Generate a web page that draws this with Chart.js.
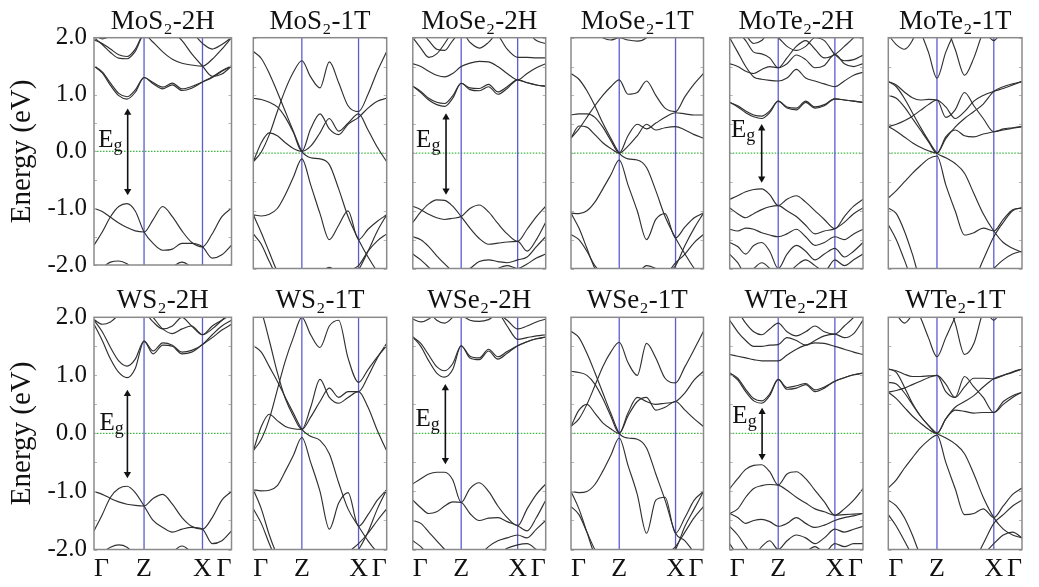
<!DOCTYPE html>
<html><head><meta charset="utf-8">
<script src="https://cdn.jsdelivr.net/npm/chart.js@4.4.0/dist/chart.umd.min.js"></script>
<style>
html,body{margin:0;padding:0;background:#fff;}
#wrap{position:relative;width:1039px;height:587px;overflow:hidden;background:#fff;}
#wrap canvas{position:absolute;}
</style></head><body><div id="wrap"></div>
<script>
// ---------- data ----------
const kPath = [0, 0.06, 0.12, 0.18, 0.24, 0.30, 0.364, 0.43, 0.50, 0.57, 0.64, 0.71, 0.789, 0.86, 0.93, 1];
const kTickPos = [0, 0.364, 0.789, 1];
const kTickLabels = ['Γ', 'Z', 'X', 'Γ'];
const energyRange = [-2, 2];
const panelTitles = ['MoS₂-2H','MoS₂-1T','MoSe₂-2H','MoSe₂-1T','MoTe₂-2H','MoTe₂-1T',
                     'WS₂-2H','WS₂-1T','WSe₂-2H','WSe₂-1T','WTe₂-2H','WTe₂-1T'];

const bands_MoS2_2H = [
 [-1.00,-1.06,-1.16,-1.26,-1.34,-1.40,-1.42,-1.20,-0.97,-1.15,-1.40,-1.60,-1.68,-1.45,-1.15,-1.00],
 [-1.65,-1.42,-1.15,-0.97,-0.92,-1.05,-1.42,-1.62,-1.74,-1.72,-1.62,-1.62,-1.68,-1.88,-1.82,-1.65],
 [-2.10,-2.04,-1.95,-1.93,-1.98,-2.10,-2.20,-2.20,-2.20,-2.04,-1.95,-2.04,-2.20,-2.20,-2.20,-2.10],
 [1.50,1.38,1.16,0.98,0.92,1.04,1.30,1.19,1.10,1.17,1.07,1.11,1.22,1.31,1.42,1.50],
 [1.50,1.40,1.20,1.02,0.96,1.08,1.30,1.21,1.13,1.20,1.10,1.14,1.22,1.30,1.41,1.50],
 [2.00,1.88,1.74,1.64,1.63,1.76,2.05,1.92,1.75,1.62,1.55,1.52,1.50,1.62,1.80,2.00],
 [1.96,1.90,1.80,1.70,1.67,1.80,2.10,2.20,2.20,2.10,1.95,1.72,1.50,1.32,1.36,1.50],
 [2.05,1.98,2.04,2.20,2.20,2.20,2.20,2.20,2.20,2.20,2.20,2.10,1.90,1.80,1.88,2.00]
];
const bands_MoS2_1T = [
 [1.76,1.64,1.38,1.06,0.72,0.38,0.03,-0.08,-0.10,-0.20,-0.62,-1.10,-1.50,-1.80,-2.05,-2.20],
 [-0.15,0.02,0.32,0.72,1.10,1.40,1.60,1.32,1.13,1.58,1.22,0.82,0.72,1.02,1.42,1.76],
 [0.95,0.93,0.88,0.80,0.62,0.36,0.03,0.42,0.68,0.42,0.32,0.50,0.62,0.78,0.90,0.95],
 [-0.15,0.18,0.35,0.30,0.18,0.08,0.03,0.12,0.35,0.60,0.38,0.52,0.68,0.40,0.10,-0.15],
 [-1.07,-1.09,-1.06,-0.96,-0.72,-0.42,-0.10,-0.55,-1.05,-1.50,-1.25,-1.00,-1.50,-1.32,-1.18,-1.07],
 [-1.40,-1.58,-1.88,-2.15,-2.30,-2.30,-2.30,-2.30,-2.30,-2.30,-2.20,-2.05,-1.95,-1.70,-1.52,-1.40],
 [-1.07,-1.38,-1.72,-2.05,-2.25,-2.30,-2.30,-2.30,-2.10,-1.98,-2.10,-2.20,-2.02,-1.70,-1.35,-1.07]
];
const bands_MoSe2_2H = [
 [1.16,1.05,0.92,0.84,0.81,0.95,1.21,1.10,1.08,1.15,1.02,1.12,1.27,1.22,1.18,1.16],
 [1.16,1.07,0.95,0.88,0.86,0.99,1.21,1.13,1.12,1.19,1.06,1.15,1.27,1.22,1.18,1.16],
 [1.55,1.50,1.42,1.35,1.32,1.38,1.50,1.56,1.59,1.58,1.50,1.38,1.27,1.38,1.48,1.55],
 [2.00,1.82,1.66,1.72,1.90,2.10,2.20,2.20,2.20,2.20,2.05,1.80,1.66,1.66,1.65,1.65],
 [2.20,2.10,1.95,1.80,1.78,1.95,2.10,1.92,1.82,1.92,2.10,2.20,2.20,2.10,1.95,1.90],
 [-0.92,-0.98,-1.06,-1.12,-1.15,-1.13,-1.10,-0.96,-0.90,-1.02,-1.22,-1.40,-1.53,-1.32,-1.10,-0.92],
 [-1.20,-1.02,-0.88,-0.81,-0.82,-0.92,-1.10,-1.30,-1.48,-1.58,-1.56,-1.54,-1.53,-1.70,-1.50,-1.20],
 [-1.45,-1.50,-1.62,-1.78,-1.92,-2.05,-2.10,-2.00,-1.88,-1.85,-1.88,-1.90,-1.85,-1.80,-1.62,-1.45],
 [-1.75,-1.85,-1.98,-2.10,-2.20,-2.20,-2.20,-2.20,-2.20,-2.10,-2.00,-1.95,-2.00,-1.92,-1.82,-1.75]
];
const bands_MoSe2_1T = [
 [1.38,1.28,1.08,0.82,0.52,0.26,0.00,-0.10,-0.12,-0.25,-0.65,-1.10,-1.47,-1.75,-2.00,-2.20],
 [0.26,0.42,0.62,0.82,1.00,1.15,1.27,1.02,1.05,1.25,1.00,0.78,0.72,0.98,1.20,1.38],
 [0.66,0.68,0.68,0.62,0.45,0.22,0.00,0.30,0.50,0.42,0.52,0.62,0.70,0.68,0.66,0.66],
 [0.26,0.47,0.45,0.32,0.18,0.08,0.00,0.12,0.30,0.50,0.40,0.44,0.46,0.40,0.32,0.26],
 [-1.04,-1.05,-1.00,-0.85,-0.62,-0.38,-0.12,-0.55,-1.00,-1.50,-1.15,-1.05,-1.47,-1.28,-1.12,-1.04],
 [-1.04,-1.30,-1.65,-2.00,-2.20,-2.30,-2.30,-2.30,-2.30,-2.30,-2.20,-2.10,-1.95,-1.60,-1.30,-1.04],
 [-1.41,-1.50,-1.70,-1.95,-2.10,-2.20,-2.20,-2.20,-2.10,-1.95,-2.00,-2.10,-1.90,-1.75,-1.55,-1.41],
 [2.20,2.20,2.20,2.10,2.00,1.96,2.00,1.96,1.94,2.00,2.20,2.20,2.20,2.20,2.20,2.20]
];
const bands_MoTe2_2H = [
 [0.88,0.80,0.70,0.63,0.60,0.70,0.90,0.78,0.75,0.88,0.78,0.82,0.94,0.92,0.90,0.88],
 [0.88,0.82,0.73,0.66,0.64,0.73,0.90,0.80,0.78,0.90,0.80,0.84,0.94,0.92,0.90,0.88],
 [1.55,1.50,1.42,1.38,1.45,1.50,1.48,1.55,1.70,1.62,1.48,1.52,1.71,1.55,1.50,1.55],
 [2.00,1.75,1.50,1.32,1.28,1.26,1.25,1.30,1.45,1.30,1.25,1.20,1.15,1.25,1.35,1.40],
 [2.20,2.10,1.95,1.75,1.72,1.65,1.48,1.65,1.85,1.95,1.80,1.65,1.71,1.85,2.00,2.20],
 [2.30,2.20,2.05,1.90,1.95,2.10,2.00,1.85,1.78,1.85,2.00,1.95,1.71,1.60,1.62,1.70],
 [-0.80,-0.74,-0.67,-0.63,-0.62,-0.72,-0.91,-0.80,-0.74,-0.85,-1.00,-1.15,-1.31,-1.10,-0.92,-0.80],
 [-0.95,-1.05,-1.12,-1.05,-0.98,-0.93,-0.91,-1.00,-1.10,-1.25,-1.40,-1.35,-1.31,-1.20,-1.05,-0.95],
 [-1.32,-1.35,-1.30,-1.32,-1.38,-1.42,-1.45,-1.40,-1.32,-1.45,-1.60,-1.55,-1.45,-1.50,-1.40,-1.32],
 [-1.55,-1.62,-1.75,-1.60,-1.55,-1.70,-2.00,-1.75,-1.60,-1.70,-1.85,-1.75,-1.65,-1.80,-1.70,-1.55],
 [-1.75,-1.90,-2.10,-2.00,-1.90,-2.00,-2.20,-2.10,-1.95,-1.85,-1.95,-2.05,-1.85,-1.95,-1.85,-1.75]
];
const bands_MoTe2_1T = [
 [1.24,1.15,0.95,0.70,0.45,0.22,0.00,-0.08,-0.18,-0.35,-0.70,-1.05,-1.35,-1.55,-1.65,-1.72],
 [0.46,0.50,0.56,0.64,0.74,0.84,0.92,0.62,0.75,1.05,0.82,0.60,0.37,0.42,0.44,0.46],
 [1.00,0.95,0.80,0.60,0.40,0.20,0.00,0.25,0.45,0.60,0.72,0.85,1.07,1.15,1.20,1.24],
 [1.24,1.18,1.06,0.96,0.92,0.93,0.92,0.80,0.60,0.72,0.90,1.00,1.07,1.12,1.18,1.24],
 [0.46,0.38,0.28,0.18,0.10,0.04,0.00,0.28,0.40,0.30,0.28,0.33,0.37,0.40,0.43,0.46],
 [-0.78,-0.65,-0.50,-0.35,-0.22,-0.10,-0.05,-0.55,-1.00,-1.42,-1.38,-1.30,-1.35,-1.15,-0.98,-0.95],
 [-0.95,-1.05,-1.35,-1.75,-2.20,-2.30,-2.30,-2.30,-2.30,-2.30,-2.20,-1.85,-1.45,-1.20,-1.00,-0.95],
 [-1.24,-1.50,-1.85,-2.20,-2.30,-2.30,-2.30,-2.30,-2.30,-2.30,-2.30,-2.20,-2.00,-1.85,-1.75,-1.70],
 [2.05,1.88,1.80,1.95,2.30,2.30,2.30,2.30,2.30,2.30,2.30,2.30,2.30,2.30,2.30,2.30],
 [2.30,2.30,2.30,2.30,2.10,1.75,1.30,1.75,2.10,2.30,2.30,2.30,2.30,2.30,2.30,2.30],
 [2.30,2.30,2.30,2.30,2.30,2.30,2.30,2.20,1.80,1.35,1.65,2.10,2.30,2.30,2.30,2.30],
 [2.30,2.30,2.30,2.30,2.30,2.30,2.30,2.30,2.30,2.30,2.30,2.15,1.95,2.15,2.30,2.30]
];
const bands_WS2_2H = [
 [1.88,1.60,1.28,1.05,0.96,1.12,1.59,1.37,1.52,1.50,1.37,1.40,1.53,1.65,1.78,1.88],
 [1.95,1.75,1.48,1.25,1.16,1.28,1.59,1.42,1.56,1.52,1.40,1.43,1.53,1.70,1.85,1.95],
 [1.96,1.88,1.92,2.05,2.20,2.20,2.20,2.00,1.80,1.72,1.80,1.85,1.70,1.85,1.95,2.05],
 [2.20,2.20,2.20,2.20,2.20,2.20,2.10,1.92,1.80,1.85,2.00,1.85,1.70,1.80,1.95,2.10],
 [-1.00,-1.05,-1.12,-1.18,-1.22,-1.24,-1.25,-1.12,-1.05,-1.22,-1.45,-1.60,-1.65,-1.45,-1.15,-1.00],
 [-1.68,-1.40,-1.10,-0.95,-0.91,-1.02,-1.25,-1.50,-1.62,-1.70,-1.65,-1.62,-1.65,-1.90,-1.85,-1.68],
 [-2.10,-2.05,-1.96,-1.92,-1.96,-2.10,-2.20,-2.20,-2.20,-2.05,-1.94,-2.05,-2.20,-2.10,-2.00,-2.10]
];
const bands_WS2_1T = [
 [1.51,1.40,1.15,0.90,0.62,0.35,0.07,-0.05,-0.12,-0.35,-0.85,-1.30,-1.60,-1.85,-2.05,-2.20],
 [-0.30,-0.10,0.25,0.75,1.25,1.65,2.00,1.70,1.48,1.85,1.95,1.30,0.88,1.10,1.32,1.51],
 [-0.30,0.12,0.33,0.22,0.12,0.08,0.07,0.45,0.93,0.62,0.52,0.62,0.72,0.45,0.05,-0.30],
 [2.30,2.10,1.60,1.05,0.60,0.30,0.07,0.28,0.55,0.78,0.62,0.72,0.72,0.98,1.30,1.55],
 [-0.97,-0.99,-0.98,-0.90,-0.65,-0.38,-0.07,-0.50,-1.00,-1.65,-1.20,-1.02,-1.60,-1.40,-1.15,-0.97],
 [-0.97,-1.30,-1.75,-2.10,-2.30,-2.30,-2.30,-2.30,-2.30,-2.30,-2.30,-2.20,-2.00,-1.70,-1.30,-0.97],
 [-1.30,-1.55,-1.90,-2.20,-2.30,-2.30,-2.30,-2.30,-2.30,-2.30,-2.20,-2.05,-1.90,-1.72,-1.50,-1.30]
];
const bands_WSe2_2H = [
 [1.66,1.50,1.25,1.04,0.97,1.10,1.51,1.30,1.27,1.42,1.28,1.38,1.51,1.58,1.63,1.66],
 [1.66,1.55,1.35,1.15,1.08,1.20,1.51,1.33,1.30,1.45,1.32,1.41,1.51,1.58,1.63,1.66],
 [1.97,1.92,1.97,2.10,2.20,2.20,2.05,1.95,1.93,1.96,2.05,1.95,1.80,1.85,1.92,1.97],
 [2.20,2.20,2.10,1.95,1.90,2.00,2.20,2.20,2.20,2.20,2.10,1.85,1.62,1.65,1.68,1.70],
 [-0.87,-0.78,-0.70,-0.67,-0.67,-0.80,-1.19,-0.95,-0.85,-1.00,-1.25,-1.45,-1.59,-1.30,-1.05,-0.87],
 [-1.15,-1.28,-1.38,-1.35,-1.25,-1.18,-1.19,-1.38,-1.50,-1.46,-1.45,-1.52,-1.59,-1.68,-1.45,-1.15],
 [-1.50,-1.55,-1.70,-1.85,-2.00,-2.15,-2.20,-2.20,-2.10,-1.95,-1.85,-1.80,-1.75,-1.80,-1.65,-1.50],
 [-1.85,-1.95,-2.10,-2.20,-2.20,-2.20,-2.20,-2.20,-2.20,-2.20,-2.10,-1.98,-1.92,-1.90,-2.00,-2.10]
];
const bands_WSe2_1T = [
 [1.76,1.65,1.38,1.05,0.70,0.35,0.00,-0.08,-0.10,-0.25,-0.70,-1.15,-1.72,-1.85,-2.05,-2.20],
 [0.12,0.25,0.50,0.82,1.15,1.40,1.57,1.22,1.00,1.55,1.30,0.95,0.87,1.15,1.45,1.76],
 [1.07,1.05,1.00,0.85,0.60,0.30,0.00,0.35,0.62,0.55,0.50,0.52,0.55,0.70,0.92,1.07],
 [0.12,0.40,0.50,0.35,0.18,0.08,0.00,0.30,0.55,0.62,0.40,0.45,0.55,0.40,0.25,0.12],
 [-1.00,-1.02,-1.00,-0.88,-0.65,-0.38,-0.08,-0.55,-1.05,-1.72,-1.15,-1.10,-1.72,-1.45,-1.15,-1.00],
 [-1.00,-1.30,-1.70,-2.10,-2.30,-2.30,-2.30,-2.30,-2.30,-2.30,-2.30,-2.20,-2.00,-1.60,-1.30,-1.00],
 [-1.26,-1.40,-1.70,-2.00,-2.20,-2.30,-2.30,-2.30,-2.30,-2.30,-2.20,-2.10,-1.95,-1.70,-1.45,-1.26]
];
const bands_WTe2_2H = [
 [1.04,0.92,0.72,0.56,0.52,0.65,0.93,0.76,0.78,0.84,0.72,0.78,0.90,0.96,1.01,1.04],
 [1.04,0.95,0.76,0.60,0.56,0.68,0.93,0.79,0.82,0.86,0.75,0.80,0.90,0.96,1.01,1.04],
 [1.36,1.33,1.30,1.27,1.25,1.25,1.25,1.35,1.45,1.52,1.56,1.55,1.50,1.45,1.40,1.36],
 [1.95,1.75,1.60,1.50,1.50,1.52,1.53,1.65,1.60,1.52,1.60,1.68,1.71,1.65,1.72,1.95],
 [2.20,2.10,1.90,1.75,1.70,1.80,1.90,1.75,1.68,1.75,1.85,1.75,1.71,1.85,2.00,2.20],
 [-0.95,-0.78,-0.62,-0.55,-0.54,-0.66,-0.89,-0.70,-0.66,-0.78,-0.98,-1.18,-1.41,-1.30,-1.15,-0.95],
 [-1.38,-1.30,-1.10,-0.95,-0.90,-0.88,-0.89,-0.98,-1.10,-1.20,-1.30,-1.35,-1.41,-1.40,-1.39,-1.38],
 [-1.38,-1.45,-1.55,-1.50,-1.48,-1.52,-1.60,-1.55,-1.45,-1.55,-1.62,-1.58,-1.50,-1.45,-1.42,-1.38],
 [-1.60,-1.75,-1.95,-2.10,-1.95,-1.85,-2.00,-1.85,-1.75,-1.80,-1.90,-1.80,-1.65,-1.70,-1.65,-1.60],
 [-1.90,-2.10,-2.20,-2.20,-2.20,-2.10,-2.00,-2.10,-2.20,-2.05,-1.95,-2.05,-1.90,-1.95,-1.90,-1.90]
];
const bands_WTe2_1T = [
 [1.11,1.05,0.80,0.52,0.30,0.14,0.00,-0.08,-0.18,-0.35,-0.70,-1.10,-1.45,-1.65,-1.75,-1.80],
 [0.71,0.74,0.78,0.84,0.90,0.96,1.00,0.72,0.62,0.98,0.80,0.62,0.36,0.55,0.65,0.71],
 [0.88,0.85,0.70,0.50,0.30,0.14,0.00,0.25,0.45,0.55,0.65,0.80,0.94,1.00,1.05,1.11],
 [1.11,1.08,1.02,0.98,0.98,0.99,1.00,0.85,0.62,0.80,0.95,0.95,0.94,1.00,1.06,1.11],
 [0.71,0.60,0.45,0.30,0.18,0.07,0.00,0.25,0.40,0.38,0.35,0.36,0.36,0.50,0.62,0.71],
 [-0.94,-0.80,-0.60,-0.42,-0.25,-0.12,-0.03,-0.50,-0.95,-1.40,-1.38,-1.30,-1.45,-1.25,-1.05,-0.94],
 [-1.15,-1.25,-1.45,-1.75,-2.10,-2.30,-2.30,-2.30,-2.30,-2.30,-2.20,-1.90,-1.55,-1.40,-1.25,-1.15],
 [-1.40,-1.60,-1.85,-2.10,-2.30,-2.30,-2.30,-2.30,-2.30,-2.30,-2.30,-2.10,-1.90,-1.75,-1.70,-1.80],
 [2.20,2.05,1.90,2.05,2.30,2.30,2.30,2.30,2.30,2.30,2.30,2.30,2.30,2.30,2.30,2.30],
 [2.30,2.30,2.30,2.25,2.00,1.65,1.32,1.65,2.00,2.30,2.30,2.30,2.30,2.30,2.30,2.30],
 [2.30,2.30,2.30,2.30,2.30,2.30,2.30,2.30,1.90,1.36,1.55,2.10,2.30,2.30,2.30,2.30],
 [2.30,2.30,2.30,2.30,2.30,2.30,2.30,2.30,2.30,2.30,2.30,2.20,1.95,2.20,2.30,2.30]
];

// band-gap arrows (k position, arrow ends in eV) and E_g label anchor
const gap_MoS2_2H  = {k:0.245, top:0.68, bottom:-0.70, labelK:0.03, labelE:0.08};
const gap_MoSe2_2H = {k:0.25,  top:0.62, bottom:-0.65, labelK:0.025, labelE:0.10};
const gap_MoTe2_2H = {k:0.24,  top:0.43, bottom:-0.44, labelK:0.01, labelE:0.28};
const gap_WS2_2H   = {k:0.243, top:0.68, bottom:-0.70, labelK:0.04, labelE:0.06};
const gap_WSe2_2H  = {k:0.245, top:0.78, bottom:-0.46, labelK:0.02, labelE:0.12};
const gap_WTe2_2H  = {k:0.243, top:0.37, bottom:-0.39, labelK:0.02, labelE:0.18};

const panelBands = [bands_MoS2_2H, bands_MoS2_1T, bands_MoSe2_2H, bands_MoSe2_1T, bands_MoTe2_2H, bands_MoTe2_1T,
                    bands_WS2_2H, bands_WS2_1T, bands_WSe2_2H, bands_WSe2_1T, bands_WTe2_2H, bands_WTe2_1T];
const panelGaps = [gap_MoS2_2H, null, gap_MoSe2_2H, null, gap_MoTe2_2H, null,
                   gap_WS2_2H, null, gap_WSe2_2H, null, gap_WTe2_2H, null];

// ---------- layout & style ----------
const FONT = "'Liberation Serif','Times New Roman','DejaVu Serif',serif";
const colBox = [[94,231.5],[253.3,386.7],[412.8,545.7],[571,703.5],[729.7,863],[888.3,1022]];
const rowBox = [[37.7,268.5],[317.3,549.5]];
const TITLE_SIZE = 27, TITLE_PAD_TOP = 5;
const BAND_COLOR = '#303030', KLINE_COLOR = '#5c5cd2', ZERO_COLOR = '#3fb83f';

Chart.defaults.font.family = FONT;

const framePlugin = {
  id: 'frame',
  afterDatasetsDraw(chart) {
    const {ctx, chartArea: a, scales: {y}} = chart;
    ctx.save();
    ctx.strokeStyle = '#b4b4b4'; ctx.lineWidth = 1;
    y.ticks.forEach(t => {
      const py = Math.round(y.getPixelForValue(t.value)) + 0.5;
      ctx.beginPath();
      ctx.moveTo(a.left, py); ctx.lineTo(a.left + 3, py);
      ctx.moveTo(a.right, py); ctx.lineTo(a.right - 3, py);
      ctx.stroke();
    });
    ctx.strokeStyle = '#8a8a8a'; ctx.lineWidth = 1.5;
    ctx.strokeRect(a.left, a.top, a.right - a.left, a.bottom - a.top);
    ctx.restore();
  }
};
function gapLabelPlugin(g) {
  return {
    id: 'gapLabel',
    afterDatasetsDraw(chart) {
      const {ctx, scales: {x, y}} = chart;
      const px = x.getPixelForValue(g.labelK), py = y.getPixelForValue(g.labelE);
      ctx.save();
      ctx.fillStyle = '#111'; ctx.textAlign = 'left'; ctx.textBaseline = 'alphabetic';
      ctx.font = '25px ' + FONT;
      ctx.fillText('E', px, py);
      const w = ctx.measureText('E').width;
      ctx.font = '18px ' + FONT;
      ctx.fillText('g', px + w, py + 4);
      ctx.restore();
    }
  };
}

const wrap = document.getElementById('wrap');
panelTitles.forEach((title, idx) => {
  const row = Math.floor(idx / 6), col = idx % 6;
  const [bl, br] = colBox[col], [bt, bb] = rowBox[row];
  const T = TITLE_PAD_TOP + TITLE_SIZE * 1.2;
  const cl = col === 0 ? 0 : Math.floor(bl - 6);
  const cr = Math.ceil(br + 6);
  const ct = Math.floor(bt - T);
  const cb = row === 0 ? Math.ceil(bb + 18) : 587;
  const cv = document.createElement('canvas');
  cv.width = cr - cl; cv.height = cb - ct;
  cv.style.left = cl + 'px'; cv.style.top = ct + 'px';
  cv.style.width = (cr - cl) + 'px'; cv.style.height = (cb - ct) + 'px';
  wrap.appendChild(cv);

  const padding = {
    left: col === 0 ? 0 : bl - cl,
    right: cr - br,
    top: bt - T - ct,
    bottom: row === 0 ? cb - bb : 0
  };
  const yAxisW = col === 0 ? bl - cl : 0;
  const xAxisH = row === 1 ? cb - bb : 0;
  const kZ = kTickPos[1], kX = kTickPos[2];

  const datasets = [];
  datasets.push({ data: [{x: 0, y: 0}, {x: 1, y: 0}], borderColor: ZERO_COLOR, borderWidth: 1.2,
                  borderDash: [1.5, 1.5], pointRadius: 0, order: 3 });
  [kZ, kX].forEach(k => datasets.push({ data: [{x: k, y: energyRange[0]}, {x: k, y: energyRange[1]}],
                  borderColor: KLINE_COLOR, borderWidth: 1.3, pointRadius: 0, order: 2 }));
  panelBands[idx].forEach(b => datasets.push({
    data: kPath.map((k, i) => ({x: k, y: b[i]})),
    borderColor: BAND_COLOR, borderWidth: 1.15, pointRadius: 0,
    cubicInterpolationMode: 'monotone', order: 1
  }));
  const g = panelGaps[idx];
  const plugins = [framePlugin];
  if (g) {
    datasets.push({ data: [{x: g.k, y: g.top}, {x: g.k, y: g.bottom}], borderColor: '#111', borderWidth: 1.6,
      pointStyle: 'triangle', pointRadius: 4.2, pointRotation: [0, 180], pointBackgroundColor: '#111',
      pointBorderColor: '#111', pointBorderWidth: 0, order: 0 });
    plugins.push(gapLabelPlugin(g));
  }

  new Chart(cv, {
    type: 'line',
    data: { datasets },
    plugins,
    options: {
      responsive: false, animation: false, devicePixelRatio: 1, events: [],
      layout: { padding },
      elements: { line: { capBezierPoints: false } },
      plugins: {
        legend: { display: false }, tooltip: { enabled: false },
        title: { display: true, text: title, fullSize: false, color: '#111',
                 font: { family: FONT, size: TITLE_SIZE, weight: 'normal', lineHeight: 1.2 },
                 padding: { top: TITLE_PAD_TOP, bottom: 0 } }
      },
      scales: {
        x: {
          type: 'linear', min: 0, max: 1, display: row === 1,
          afterBuildTicks: s => { s.ticks = kTickPos.map(v => ({value: v})); },
          afterFit: s => { s.height = xAxisH; },
          grid: { display: false, drawTicks: false }, border: { display: false },
          ticks: { autoSkip: false, maxRotation: 0, align: 'inner', padding: 4, color: '#111',
                   font: { family: FONT, size: 26 }, callback: (v, i) => kTickLabels[i] }
        },
        y: {
          type: 'linear', min: energyRange[0], max: energyRange[1], position: 'left',
          afterFit: s => { s.width = yAxisW; },
          grid: { display: false, drawTicks: false }, border: { display: false },
          ticks: { display: col === 0, stepSize: 0.5, autoSkip: false, padding: 7, color: '#111',
                   font: { family: FONT, size: 25 },
                   callback: v => Number.isInteger(v) ? v.toFixed(1) : '' },
          title: { display: col === 0, text: 'Energy (eV)', color: '#111',
                   font: { family: FONT, size: 29 }, padding: { top: 5, bottom: 0 } }
        }
      }
    }
  });
});
</script>
</body></html>
